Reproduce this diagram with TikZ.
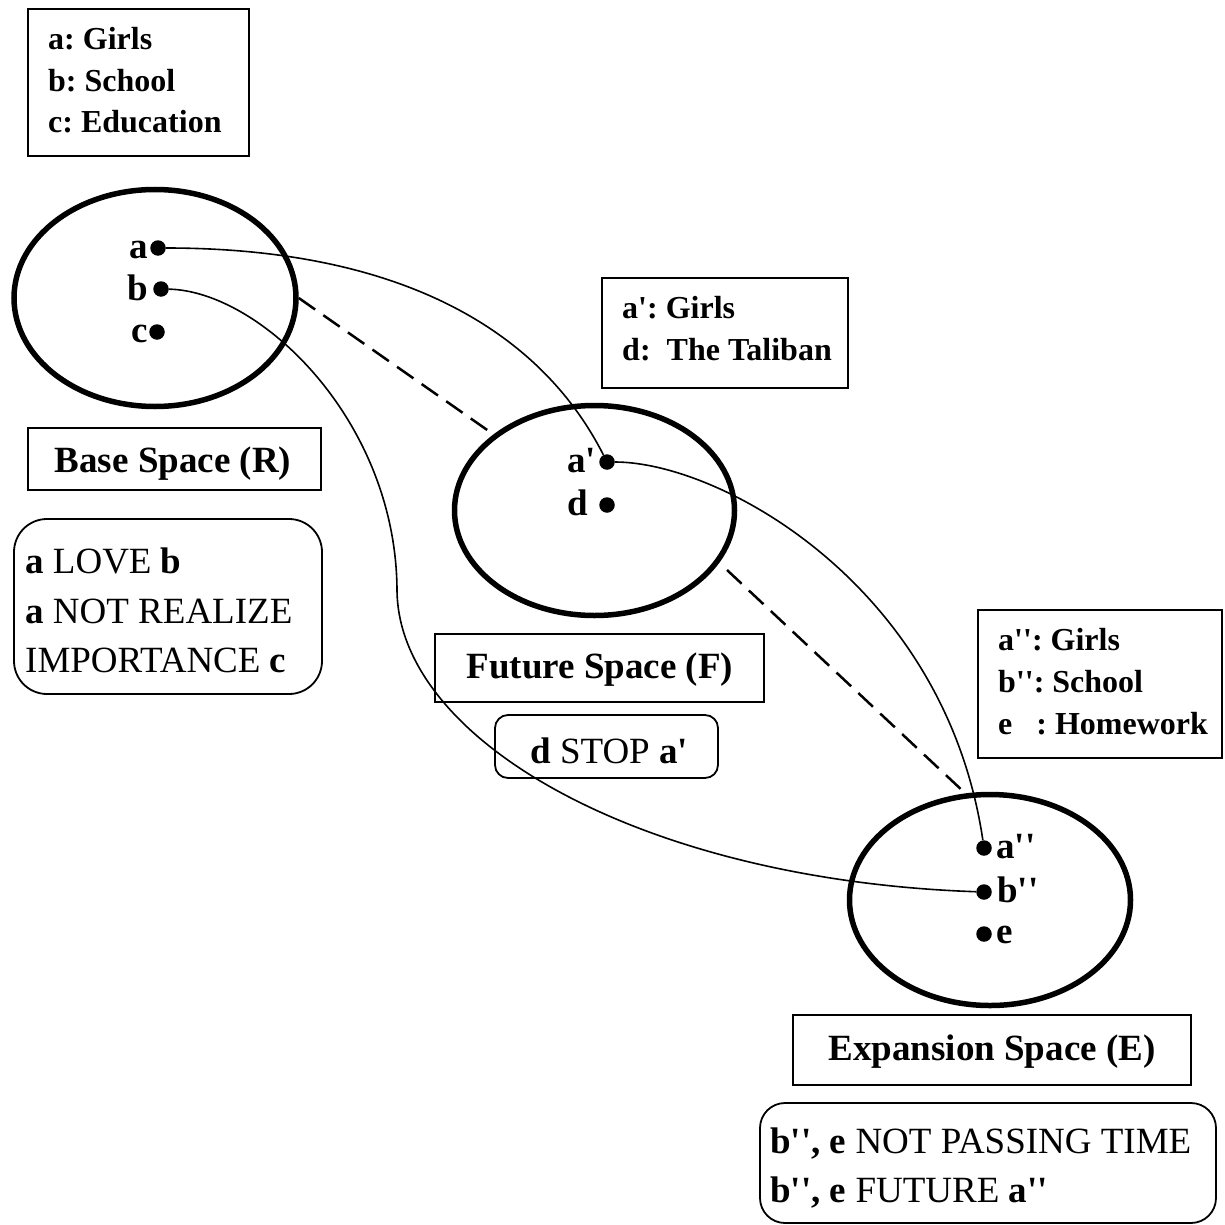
\documentclass[tikz,border=0pt]{standalone}
\usepackage{fontspec}
\newfontfamily\tnr{Liberation Serif}
\usetikzlibrary{shapes.geometric}
\frenchspacing
\begin{document}
\begin{tikzpicture}[x=1pt,y=-1pt,
  space/.style={draw, ellipse, line width=5.5pt, inner sep=0pt},
  dot/.style={circle, fill=black, inner sep=0pt, minimum size=15.5pt},
  frame/.style={draw, line width=1.8pt, inner sep=0pt},
  roundframe/.style={frame, rounded corners=#1},
  small/.style={inner sep=0pt, font=\tnr\bfseries\fontsize{32}{38}\selectfont},
  big/.style={inner sep=0pt, font=\tnr\bfseries\fontsize{37}{44}\selectfont},
  plain/.style={inner sep=0pt, font=\tnr\fontsize{37}{44}\selectfont},
  link/.style={line width=1.6pt},
  dashline/.style={line width=2.5pt, dash pattern=on 20pt off 10pt},
]
\useasboundingbox (0,0) rectangle (1224,1225);

% ---- the three mental spaces ----
\node[space, minimum width=282, minimum height=217] (elR) at (155,298) {};
\node[space, minimum width=280, minimum height=210] (elF) at (594.5,510.5) {};
\node[space, minimum width=281, minimum height=211] (elE) at (990,900) {};

% ---- elements inside the spaces ----
\node[dot] (pa)  at (158,248) {};
\node[dot] (pb)  at (161,289) {};
\node[dot] (pc)  at (157,332) {};
\node[dot] (pa1) at (607,462) {};
\node[dot] (pd)  at (607,505) {};
\node[dot] (pa2) at (984,848) {};
\node[dot] (pb2) at (984,892) {};
\node[dot] (pe)  at (984,934) {};

\node[big, anchor=base east] (la)  at (148,258) {a};
\node[big, anchor=base east] (lb)  at (148,300) {b};
\node[big, anchor=base east] (lc)  at (148,342) {c};
\node[big, anchor=base west] (la1) at (567,472) {a'};
\node[big, anchor=base west] (ld)  at (567,515) {d};
\node[big, anchor=base west] (la2) at (996,858) {a''};
\node[big, anchor=base west] (lb2) at (997,902) {b''};
\node[big, anchor=base west] (le)  at (996,943) {e};

% ---- cross-space mappings ----
\coordinate (bturn) at (397,590);
\draw[link] (pa) .. controls (400,248) and (540,330) .. (pa1);
\draw[link] (pb) .. controls (260,291) and (396,420) .. (bturn)
                 .. controls (398,740) and (640,880) .. (pb2);
\draw[link] (pa1) .. controls (720,462) and (945,585) .. (pa2);

\coordinate (fout) at (727,570);
\draw[dashline] (elR.east) -- (elF.143);
\draw[dashline] (fout) -- (elE.103);

% ---- legend of base space ----
\node[frame, minimum width=221, minimum height=147] (legR) at (138.5,82.5) {};
\node[small, anchor=base west] (legRa) at (48,50) {a: Girls};
\node[small, anchor=base west] (legRb) at (48,92) {b: School};
\node[small, anchor=base west] (legRc) at (48,133) {c: Education};

\node[frame, minimum width=293, minimum height=62] (boxR) at (174.5,459) {};
\node[big, anchor=base] (nameR) at (173,472) {Base Space (R)};

\node[roundframe=33pt, minimum width=308, minimum height=175] (relR) at (168,606.5) {};
\node[plain, anchor=base west] (relR1) at (25,573) {\textbf{a} LOVE \textbf{b}};
\node[plain, anchor=base west] (relR2) at (25,623) {\textbf{a} NOT REALIZE};
\node[plain, anchor=base west] (relR3) at (25,672) {IMPORTANCE \textbf{c}};

% ---- legend of future space ----
\node[frame, minimum width=246, minimum height=110] (legF) at (725,333) {};
\node[small, anchor=base west] (legFa) at (622,318) {a': Girls};
\node[small, anchor=base west] (legFd) at (622,360) {d:\ \ The Taliban};

\node[frame, minimum width=329, minimum height=68] (boxF) at (599.5,668) {};
\node[big, anchor=base] (nameF) at (600,678) {Future Space (F)};

\node[roundframe=13pt, minimum width=223, minimum height=63] (relF) at (606.5,746.5) {};
\node[plain, anchor=base] (relF1) at (609,763) {\textbf{d} STOP \textbf{a'}};

% ---- legend of expansion space ----
\node[frame, minimum width=244, minimum height=148] (legE) at (1100,684) {};
\node[small, anchor=base west] (legEa) at (998,650) {a'': Girls};
\node[small, anchor=base west] (legEb) at (998,692) {b'': School};
\node[small, anchor=base west] (legEe) at (998,734) {e\ \ \ : Homework};

\node[frame, minimum width=398, minimum height=70] (boxE) at (992,1050) {};
\node[big, anchor=base] (nameE) at (992,1060) {Expansion Space (E)};

\node[roundframe=25pt, minimum width=456, minimum height=120] (relE) at (988,1163) {};
\node[plain, anchor=base west] (relE1) at (770,1153) {\textbf{b'', e} NOT PASSING TIME};
\node[plain, anchor=base west] (relE2) at (770,1202) {\textbf{b'', e} FUTURE \textbf{a''}};
\end{tikzpicture}
\end{document}
